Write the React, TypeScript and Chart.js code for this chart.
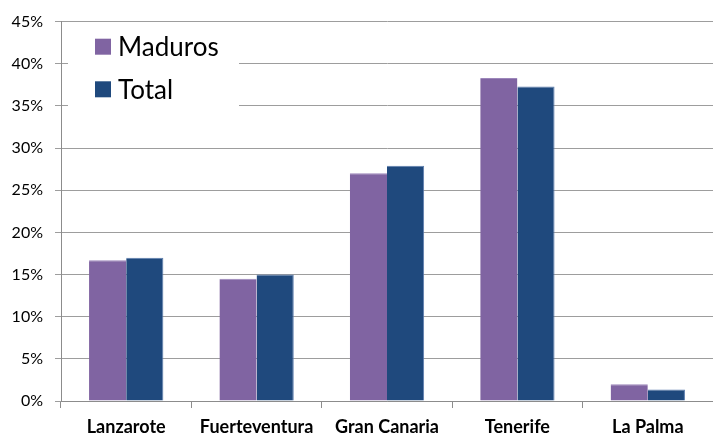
import React, { useEffect, useRef } from "react";
import { Chart, registerables } from "chart.js";

Chart.register(...registerables);

const categories = ["Lanzarote", "Fuerteventura", "Gran Canaria", "Tenerife", "La Palma"];
const seriesNames = ["Maduros", "Total"];
const maduros = [0.167, 0.145, 0.27, 0.383, 0.02];
const total = [0.17, 0.15, 0.279, 0.373, 0.0135];
const seriesColors = ["#8064A2", "#1F497D"];
const seriesBorders = ["#9C86BA", "#5C7DAE"];

const insideLegend = {
  id: "insideLegend",
  afterDraw(chart: any) {
    const ctx = chart.ctx;
    ctx.save();
    ctx.fillStyle = "#ffffff";
    ctx.fillRect(68, 28, 171, 82);
    const rows = [46.7, 89.3];
    chart.data.datasets.forEach((ds: any, i: number) => {
      const cy = rows[i];
      ctx.fillStyle = ds.backgroundColor;
      ctx.fillRect(95, cy - 8, 16, 16);
      ctx.fillStyle = "#000";
      ctx.font = "26px Lato";
      ctx.textBaseline = "middle";
      ctx.textAlign = "left";
      ctx.fillText(ds.label, 118, cy + 1);
    });
    ctx.restore();
  },
};

export default function App() {
  const ref = useRef<HTMLCanvasElement | null>(null);
  useEffect(() => {
    if (!ref.current) return;
    Chart.defaults.font.family = "Lato";
    const chart = new Chart(ref.current, {
      type: "bar",
      data: {
        labels: categories,
        datasets: [
          {
            label: seriesNames[0],
            data: maduros,
            backgroundColor: seriesColors[0],
            borderColor: seriesBorders[0],
            borderWidth: { top: 1, right: 0, left: 0, bottom: 0 },
          },
          {
            label: seriesNames[1],
            data: total,
            backgroundColor: seriesColors[1],
            borderColor: seriesBorders[1],
            borderWidth: { top: 1, right: 1, left: 0, bottom: 0 },
          },
        ],
      },
      options: {
        animation: false,
        responsive: false,
        devicePixelRatio: 1,
        layout: { padding: { top: 20, right: -3, left: 0, bottom: 0 } },
        datasets: { bar: { categoryPercentage: 0.57, barPercentage: 1 } },
        plugins: {
          legend: { display: false },
          title: { display: false },
          tooltip: { enabled: false },
        },
        scales: {
          x: {
            grid: {
              display: true,
              drawOnChartArea: false,
              drawTicks: true,
              tickLength: 7,
              color: "#8c8c8c",
              offset: true,
            },
            border: { display: true, color: "#8c8c8c" },
            ticks: {
              color: "#000",
              font: { size: 18, weight: "bold" },
              padding: 8,
              maxRotation: 0,
            },
            afterFit(scale: any) {
              scale.height = 38;
            },
          },
          y: {
            min: 0,
            max: 0.45,
            ticks: {
              stepSize: 0.05,
              color: "#000",
              font: { size: 16 },
              padding: 12,
              callback: (v: any) => Math.round(Number(v) * 100) + "%",
            },
            grid: {
              color: "#9d9d9d",
              tickLength: 6,
              drawTicks: true,
            },
            border: { display: true, color: "#8c8c8c" },
            afterFit(scale: any) {
              scale.width = 61;
            },
          },
        },
      },
      plugins: [insideLegend],
    });
    return () => chart.destroy();
  }, []);
  return (
    <div style={{ position: "absolute", left: 0, top: 0, width: 713, height: 439, background: "#fff" }}>
      <canvas ref={ref} width={713} height={439} />
    </div>
  );
}
